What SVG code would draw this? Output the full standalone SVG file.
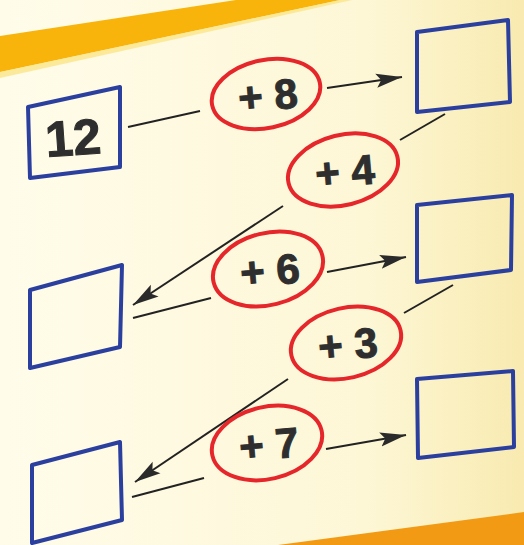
<svg xmlns="http://www.w3.org/2000/svg" width="524" height="545" viewBox="0 0 524 545">
<style>
.box{fill:none;stroke:#2b3f9e;stroke-width:4;stroke-linejoin:round}
.oval{fill:none;stroke:#e5262a;stroke-width:4}
.lbl{font-family:"Liberation Sans","DejaVu Sans",sans-serif;font-weight:bold;font-size:42px;fill:#2e2e2e;stroke:#2e2e2e;stroke-width:1;text-anchor:middle}
.ln{stroke:#222;stroke-width:2;fill:none}
</style>
<defs>
<linearGradient id="bg" x1="0" y1="0" x2="1" y2="0">
<stop offset="0" stop-color="#fffcea"/>
<stop offset="0.7" stop-color="#fdf7d6"/>
<stop offset="1" stop-color="#f8eab0"/>
</linearGradient>
<marker id="ah" markerUnits="userSpaceOnUse" markerWidth="28" markerHeight="16" refX="26" refY="8" orient="auto">
<path d="M0,1 L26,8 L0,15 L5,8 Z" fill="#2a2a2a"/>
</marker>
</defs>
<rect width="524" height="545" fill="url(#bg)"/>
<polygon points="0,36 236,0 340,0 0,72" fill="#f8b40a"/>
<polygon points="0,72 340,0 352,0 0,78" fill="#fbe27a" opacity="0.7"/>
<polygon points="278,545 524,512 524,545" fill="#f39a14"/>
<g id="connectors">
<line class="ln" x1="128" y1="127" x2="200" y2="111"/>
<line class="ln" x1="327" y1="88" x2="402" y2="77" marker-end="url(#ah)"/>
<line class="ln" x1="445" y1="114" x2="400" y2="140"/>
<line class="ln" x1="283" y1="206" x2="133" y2="305" marker-end="url(#ah)"/>
<line class="ln" x1="133" y1="318" x2="211" y2="298"/>
<line class="ln" x1="327" y1="272" x2="406" y2="257" marker-end="url(#ah)"/>
<line class="ln" x1="453" y1="285" x2="404" y2="313"/>
<line class="ln" x1="288" y1="379" x2="135" y2="482" marker-end="url(#ah)"/>
<line class="ln" x1="132" y1="497" x2="204" y2="478"/>
<line class="ln" x1="326" y1="449" x2="406" y2="435" marker-end="url(#ah)"/>
</g>
<g id="n12">
<polygon class="box" points="28,107 120,87 120,167 30,178"/>
<text class="lbl" x="73" y="155" style="font-size:50px" transform="rotate(-4 73 137)">12</text>
</g>
<g id="box1">
<polygon class="box" points="417,32 508,20 510,102 417,112"/>
</g>
<g id="box2">
<polygon class="box" points="30,290 122,265 120,347 30,368"/>
</g>
<g id="box3">
<polygon class="box" points="417,205 512,195 511,270 417,282"/>
</g>
<g id="box4">
<polygon class="box" points="32,465 120,442 122,520 32,543"/>
</g>
<g id="box5">
<polygon class="box" points="417,379 513,371 514,447 418,458"/>
</g>
<g id="op8">
<ellipse class="oval" cx="266" cy="94" rx="55" ry="34" transform="rotate(-12 266 94)"/>
<text class="lbl" x="268" y="110" transform="rotate(-5 268 96)">+ 8</text>
</g>
<g id="op4">
<ellipse class="oval" cx="343" cy="170" rx="56" ry="35" transform="rotate(-14 343 170)"/>
<text class="lbl" x="345" y="186" transform="rotate(-5 345 172)">+ 4</text>
</g>
<g id="op6">
<ellipse class="oval" cx="268" cy="269" rx="56" ry="36" transform="rotate(-14 268 269)"/>
<text class="lbl" x="270" y="285" transform="rotate(-5 270 271)">+ 6</text>
</g>
<g id="op3">
<ellipse class="oval" cx="346" cy="343" rx="56" ry="35" transform="rotate(-13 346 343)"/>
<text class="lbl" x="348" y="359" transform="rotate(-5 348 345)">+ 3</text>
</g>
<g id="op7">
<ellipse class="oval" cx="267" cy="443" rx="56" ry="36" transform="rotate(-13 267 443)"/>
<text class="lbl" x="269" y="459" transform="rotate(-5 269 445)">+ 7</text>
</g>
</svg>
